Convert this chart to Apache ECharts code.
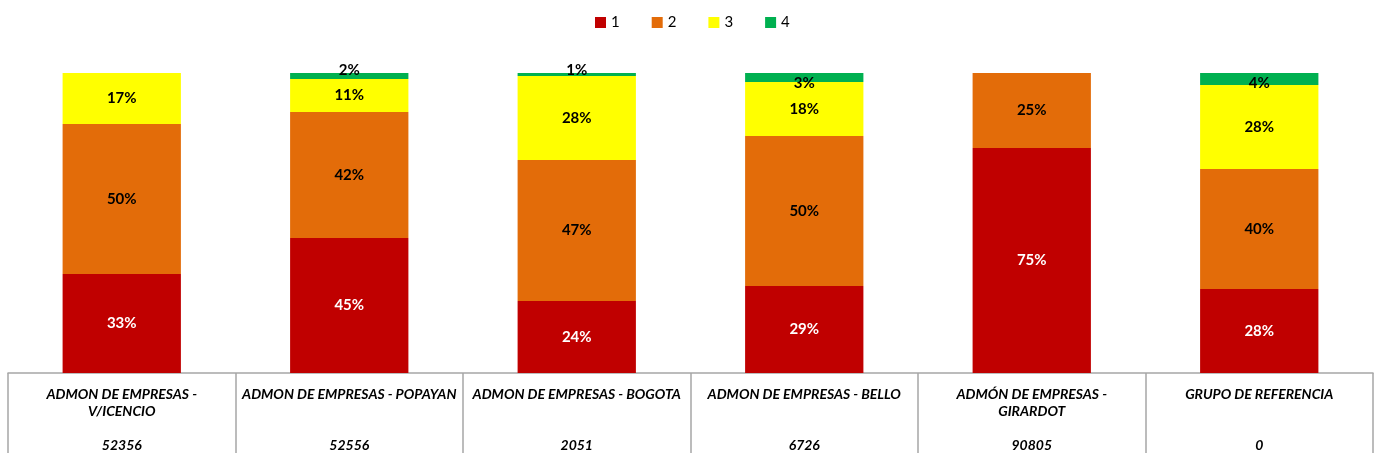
<!DOCTYPE html>
<html>
<head>
<meta charset="utf-8">
<script src="https://cdn.jsdelivr.net/npm/echarts@6/dist/echarts.min.js"></script>
<style>
  html, body { margin: 0; padding: 0; background: #fff; }
  #main { width: 1393px; height: 469px; }
</style>
</head>
<body>
<div id="main"></div>
<script>
// categorias (con el salto de linea como en la tabla de Excel)
var categories = [
  'ADMON DE EMPRESAS -\nV/ICENCIO',
  'ADMON DE EMPRESAS - POPAYAN',
  'ADMON DE EMPRESAS - BOGOTA',
  'ADMON DE EMPRESAS - BELLO',
  'ADMÓN DE EMPRESAS -\nGIRARDOT',
  'GRUPO DE REFERENCIA'
];
var counts = ['52356', '52556', '2051', '6726', '90805', '0'];
var seriesNames = ['1', '2', '3', '4'];
var s1 = [33, 45, 24, 29, 75, 28];
var s2 = [50, 42, 47, 50, 25, 40];
var s3 = [17, 11, 28, 18, 0, 28];
var s4 = [0, 2, 1, 3, 0, 4];

var colors = ['#C00000', '#E36C09', '#FFFF00', '#00B050'];
var labelColors = ['#ffffff', '#000000', '#000000', '#000000'];

var chart = echarts.init(document.getElementById('main'));

function pct(p) {
  return p.value > 0 ? p.value + '%' : '';
}

function makeSeries(idx, values) {
  var s = {
    name: seriesNames[idx],
    type: 'bar',
    stack: 'total',
    barWidth: '52%',
    itemStyle: { color: colors[idx] },
    label: {
      show: true,
      position: 'inside',
      formatter: pct,
      color: labelColors[idx],
      fontFamily: 'Lato',
      fontWeight: 'bold',
      fontSize: 15
    },
    data: values.slice()
  };
  if (idx === 3) {
    // etiquetas del segmento verde: encima o dentro segun la barra
    s.data = values.map(function (v, i) {
      var pos = (i === 1 || i === 2) ? { position: 'top', distance: -5 } : { position: 'insideTop', distance: 3 };
      return { value: v, label: pos };
    });
  }
  return s;
}

var option = {
  animation: false,
  color: colors,
  legend: {
    top: 10,
    left: 590,
    itemWidth: 11,
    itemHeight: 11,
    itemGap: 32,
    icon: 'rect',
    textStyle: { fontFamily: 'Lato', fontSize: 15, color: '#000' },
    data: seriesNames
  },
  grid: { left: 8, right: 20, top: 73, bottom: 96 },
  xAxis: {
    type: 'category',
    data: categories,
    axisLine: { show: true, lineStyle: { color: '#a6a6a6', width: 1.5 } },
    axisTick: { show: true, length: 80, interval: 0, lineStyle: { color: '#a6a6a6', width: 1.5 } },
    axisLabel: {
      interval: 0,
      margin: 13,
      verticalAlign: 'top',
      lineHeight: 17,
      fontFamily: 'Lato',
      fontStyle: 'italic',
      fontWeight: 'bold',
      fontSize: 14,
      color: '#000',
      formatter: function (val, i) {
        var lines = val.split('\n');
        while (lines.length < 3) lines.push('');
        return lines.join('\n') + '\n' + counts[i];
      }
    }
  },
  yAxis: {
    type: 'value',
    min: 0,
    max: 100,
    show: false,
    splitLine: { show: false }
  },
  series: [
    makeSeries(0, s1),
    makeSeries(1, s2),
    makeSeries(2, s3),
    makeSeries(3, s4)
  ]
};

chart.setOption(option);
</script>
</body>
</html>
